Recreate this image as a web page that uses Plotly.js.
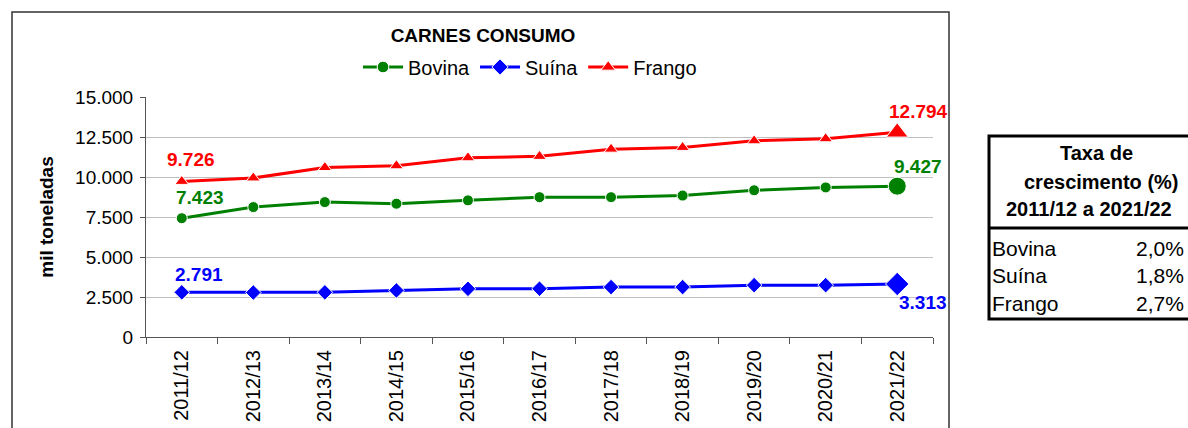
<!DOCTYPE html>
<html>
<head>
<meta charset="utf-8">
<script src="https://cdn.plot.ly/plotly-3.0.1.min.js"></script>
<style>
html,body{margin:0;padding:0;background:#fff;}
#chart{width:1188px;height:428px;}
</style>
</head>
<body>
<div id="chart"></div>
<script>
// ---- data ----
var categories = ["2011/12","2012/13","2013/14","2014/15","2015/16","2016/17","2017/18","2018/19","2019/20","2020/21","2021/22"];
var bovina = [7423, 8120, 8430, 8330, 8540, 8740, 8740, 8840, 9170, 9350, 9427];
var suina  = [2791, 2780, 2790, 2910, 3010, 3020, 3120, 3120, 3240, 3240, 3313];
var frango = [9726, 9940, 10590, 10700, 11200, 11290, 11740, 11850, 12260, 12390, 12794];
var seriesNames = ["Bovina","Suína","Frango"];
var growthRates = ["2,0%","1,8%","2,7%"];
var yTickVals = [0, 2500, 5000, 7500, 10000, 12500, 15000];
var yTickText = ["0","2.500","5.000","7.500","10.000","12.500","15.000"];
var tableHeader = ["Taxa de","crescimento (%)","2011/12 a 2021/22"];

// ---- helpers ----
function fmt(v){ return v.toLocaleString('de-DE'); }
var last = categories.length - 1;
function sizes(n, big){ return categories.map(function(_, i){ return i === last ? big : n; }); }

var FONT = "Liberation Sans, Arial, sans-serif";
var GREEN = "#008000", BLUE = "#0000ff", RED = "#ff0000";

var traces = [
  {x: categories, y: bovina, name: seriesNames[0], type: "scatter", mode: "lines+markers",
   line: {color: GREEN, width: 3}, marker: {symbol: "circle", color: GREEN, opacity: 1, size: sizes(11, 18)}},
  {x: categories, y: suina, name: seriesNames[1], type: "scatter", mode: "lines+markers",
   line: {color: BLUE, width: 3}, marker: {symbol: "diamond", color: BLUE, opacity: 1, size: sizes(12, 18)}},
  {x: categories, y: frango, name: seriesNames[2], type: "scatter", mode: "lines+markers",
   line: {color: RED, width: 3}, marker: {symbol: "triangle-up", color: RED, opacity: 1, size: sizes(12, 19)}}
];

// plot area geometry (px) for paper conversions
var L = 146, R = 933, T = 97, B = 337, W = 1188, H = 428;
function px(x){ return (x - L) / (R - L); }
function py(y){ return (B - y) / (B - T); }

var labelFont = function(c){ return {family: FONT, size: 19, color: c}; };
var annotations = [
  {x: categories[0], y: frango[0], text: "<b>" + fmt(frango[0]) + "</b>", showarrow: false, font: labelFont(RED), xshift: 9, yshift: 22},
  {x: categories[0], y: bovina[0], text: "<b>" + fmt(bovina[0]) + "</b>", showarrow: false, font: labelFont(GREEN), xshift: 18, yshift: 21},
  {x: categories[0], y: suina[0], text: "<b>" + fmt(suina[0]) + "</b>", showarrow: false, font: labelFont(BLUE), xshift: 17, yshift: 18},
  {x: categories[last], y: frango[last], text: "<b>" + fmt(frango[last]) + "</b>", showarrow: false, font: labelFont(RED), xshift: 21, yshift: 21},
  {x: categories[last], y: bovina[last], text: "<b>" + fmt(bovina[last]) + "</b>", showarrow: false, font: labelFont(GREEN), xshift: 21, yshift: 20},
  {x: categories[last], y: suina[last], text: "<b>" + fmt(suina[last]) + "</b>", showarrow: false, font: labelFont(BLUE), xshift: 26, yshift: -19},
  // table header
  {xref: "paper", yref: "paper", x: px(1096), y: py(153), text: "<b>" + tableHeader[0] + "</b>", showarrow: false,
   font: {family: FONT, size: 20, color: "#000"}, xanchor: "center", yanchor: "middle"},
  {xref: "paper", yref: "paper", x: px(1101), y: py(182), text: "<b>" + tableHeader[1] + "</b>", showarrow: false,
   font: {family: FONT, size: 20, color: "#000"}, xanchor: "center", yanchor: "middle"},
  {xref: "paper", yref: "paper", x: px(1089), y: py(209), text: "<b>" + tableHeader[2] + "</b>", showarrow: false,
   font: {family: FONT, size: 20, color: "#000"}, xanchor: "center", yanchor: "middle"}
];
var rowY = [248, 275, 303];
for (var i = 0; i < seriesNames.length; i++) {
  annotations.push({xref: "paper", yref: "paper", x: px(990), y: py(rowY[i]), text: seriesNames[i], showarrow: false,
    font: {family: FONT, size: 21, color: "#000"}, xanchor: "left", yanchor: "middle"});
  annotations.push({xref: "paper", yref: "paper", x: px(1186), y: py(rowY[i]), text: growthRates[i], showarrow: false,
    font: {family: FONT, size: 21, color: "#000"}, xanchor: "right", yanchor: "middle"});
}

var shapes = [
  // chart frame
  {type: "rect", xref: "paper", yref: "paper", x0: px(12), x1: px(949), y0: py(445), y1: py(12),
   line: {color: "#333333", width: 1.5}, fillcolor: "rgba(0,0,0,0)", layer: "below"},
  // table frame
  {type: "rect", xref: "paper", yref: "paper", x0: px(989), x1: px(1195), y0: py(319), y1: py(136),
   line: {color: "#000", width: 3}, fillcolor: "rgba(0,0,0,0)"},
  {type: "line", xref: "paper", yref: "paper", x0: px(989), x1: px(1195), y0: py(228), y1: py(228),
   line: {color: "#000", width: 3}}
];

var layout = {
  width: W, height: H,
  margin: {l: L, r: W - R, t: T, b: H - B, pad: 0},
  paper_bgcolor: "#fff", plot_bgcolor: "#fff",
  font: {family: FONT, color: "#000"},
  title: {text: "<b>CARNES CONSUMO</b>", font: {family: FONT, size: 19, color: "#000"},
          xref: "container", x: 483 / W, xanchor: "center", yref: "container", y: 1 - 35 / H, yanchor: "middle"},
  showlegend: true,
  legend: {orientation: "h", x: px(530), xanchor: "center", y: py(67), yanchor: "middle",
           font: {family: FONT, size: 20, color: "#000"}, bgcolor: "rgba(0,0,0,0)", itemwidth: 40, tracegroupgap: 0},
  xaxis: {type: "category", tickangle: -90, tickfont: {family: FONT, size: 20, color: "#000"},
          showline: true, linecolor: "#555", linewidth: 1, ticks: "outside", ticklen: 6, tickcolor: "#555",
          tickson: "boundaries", showgrid: false, zeroline: false, range: [-0.5, last + 0.5], fixedrange: true,
          ticklabelstandoff: 4},
  yaxis: {range: [0, 15000], tickvals: yTickVals, ticktext: yTickText, tickfont: {family: FONT, size: 19, color: "#000"},
          showline: true, linecolor: "#555", linewidth: 1, ticks: "outside", ticklen: 5, tickcolor: "#555",
          showgrid: true, gridcolor: "#c0c0c0", gridwidth: 1, zeroline: false, ticklabelstandoff: 3,
          title: {text: "<b>mil toneladas</b>", font: {family: FONT, size: 19, color: "#000"}, standoff: 16}},
  annotations: annotations,
  shapes: shapes
};

Plotly.newPlot("chart", traces, layout, {displayModeBar: false, staticPlot: true});
</script>
</body>
</html>
